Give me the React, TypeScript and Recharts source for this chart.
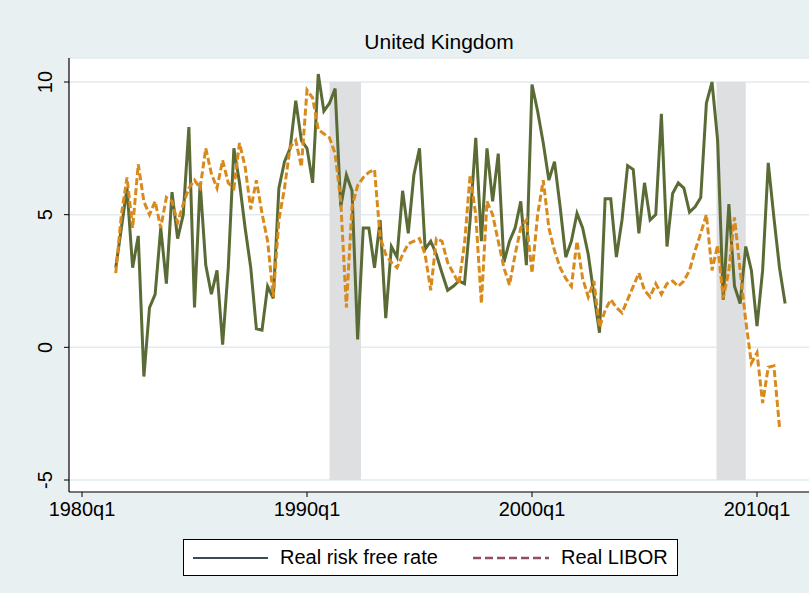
import React from 'react';
import { ComposedChart, Line, XAxis, YAxis, CartesianGrid, ReferenceArea } from 'recharts';

// quarters run from 1981q3 to 2011q2
const firstQuarter = { year: 1981, q: 3 };
const quarterCount = 120;

const xTicks = [1980, 1990, 2000, 2010];
const yTicks = [-5, 0, 5, 10];

// recession bands (start, end) in years
const recessions = [
  [1991.0, 1992.4],
  [2008.2, 2009.5],
];

const realRiskFree = [
  3.0, 4.5, 6.0, 3.0, 4.2, -1.1, 1.5, 2.0, 4.5, 2.4,
  5.85, 4.1, 5.0, 8.3, 1.5, 6.2, 3.1, 2.0, 2.9, 0.1,
  3.0, 7.5, 6.2, 4.5, 3.0, 0.7, 0.65, 2.3, 1.85, 6.0,
  7.0, 7.5, 9.3, 7.8, 7.5, 6.2, 10.3, 8.9, 9.2, 9.75,
  5.3, 6.5, 5.9, 0.3, 4.5, 4.5, 3.0, 4.8, 1.1, 3.8,
  3.4, 5.9, 4.3, 6.5, 7.5, 3.7, 4.0, 3.5, 2.8, 2.15,
  2.3, 2.5, 2.4, 4.8, 7.9, 4.0, 7.5, 5.5, 7.3, 3.2,
  4.0, 4.5, 5.5, 3.1, 9.9, 8.9, 7.7, 6.3, 7.0, 5.3,
  3.4, 4.0, 5.05, 4.5, 3.5, 2.0, 0.55, 5.6, 5.6, 3.4,
  4.8, 6.85, 6.7, 4.3, 6.2, 4.8, 5.0, 8.8, 3.8, 5.8,
  6.2, 6.0, 5.1, 5.3, 5.65, 9.2, 10.0, 7.8, 1.8, 5.4,
  2.3, 1.65, 3.8, 2.9, 0.8, 2.9, 6.95, 4.9, 3.0, 1.65,
];

const realLibor: (number | null)[] = [
  2.8, 5.0, 6.4, 4.5, 6.9, 5.5, 5.0, 5.5, 4.5, 5.65,
  5.5, 4.7, 5.4, 6.0, 6.3, 6.0, 7.5, 6.55, 6.0, 7.05,
  6.2, 6.0, 7.7, 6.8, 5.2, 6.3, 5.05, 4.0, 1.9, 4.8,
  6.0, 7.55, 7.8, 6.8, 9.7, 9.4, 8.2, 8.05, 7.9, 7.3,
  5.5, 1.5, 5.3, 6.1, 6.4, 6.6, 6.7, 4.15, 3.5, 3.2,
  3.0, 3.5, 3.9, 4.0, 4.1, 3.5, 2.15, 4.1, 4.0, 3.2,
  2.8, 2.4, 3.9, 6.5, 5.0, 1.65, 5.5, 5.0, 4.0, 3.0,
  2.35, 3.5, 4.5, 4.8, 2.8, 5.0, 6.3, 4.5, 3.65, 3.0,
  2.6, 2.3, 4.0, 2.6, 1.9, 2.5, 0.75, 1.4, 1.8, 1.5,
  1.3, 1.8, 2.3, 2.8, 2.15, 1.9, 2.4, 2.0, 2.4, 2.5,
  2.3, 2.5, 2.9, 3.65, 4.3, 5.0, 2.9, 3.85, 1.85, 2.9,
  4.9, 2.9, 1.0, -0.6, -0.2, -2.1, -0.75, -0.7, -3.0, null,
];

const quarters: { label: string; t: number }[] = [];
{
  let y = firstQuarter.year;
  let q = firstQuarter.q;
  for (let i = 0; i < quarterCount; i++) {
    quarters.push({ label: `${y}q${q}`, t: y + (q - 1) / 4 });
    q++;
    if (q > 4) { q = 1; y++; }
  }
}

const data = quarters.map((d, i) => ({
  t: d.t,
  label: d.label,
  rf: realRiskFree[i],
  libor: realLibor[i],
}));

const FONT = '"Liberation Sans", Arial, sans-serif';
const BG = '#e9f0f2';
const GREEN = '#5a6b35';
const ORANGE = '#d98a1c';

const YTick = (props: any) => {
  const { y, payload } = props;
  return (
    <text
      x={45}
      y={y}
      transform={`rotate(-90 45 ${y})`}
      textAnchor="middle"
      dominantBaseline="central"
      fontSize={20}
      fontFamily={FONT}
      fill="#000"
    >
      {payload.value}
    </text>
  );
};

export default function App() {
  return (
    <div style={{ position: 'absolute', left: 0, top: 0, width: 809, height: 593, background: BG, fontFamily: FONT, overflow: 'hidden' }}>
      <div style={{ position: 'absolute', left: 69, width: 740, top: 31, textAlign: 'center', fontSize: 21, lineHeight: '21px', color: '#000' }}>
        United Kingdom
      </div>
      <ComposedChart width={809} height={593} data={data} margin={{ top: 58, right: 0, bottom: 0, left: 0 }}>
        <CartesianGrid vertical={false} fill="#fff" stroke="#e3ebee" strokeWidth={1.5} />
        <XAxis
          dataKey="t"
          type="number"
          domain={[1979.422, 2012.311]}
          ticks={xTicks}
          allowDataOverflow
          tickFormatter={(v: number) => `${v}q1`}
          height={101}
          tickSize={5}
          tickMargin={5}
          axisLine={{ stroke: '#000', strokeWidth: 1.2 }}
          tickLine={{ stroke: '#000' }}
          tick={{ fill: '#000', fontSize: 20, fontFamily: FONT }}
          padding={{ left: 0, right: 0 }}
        />
        <YAxis
          type="number"
          domain={[-5.452, 10.905]}
          ticks={yTicks}
          allowDataOverflow
          width={69}
          tickSize={5}
          axisLine={{ stroke: '#000', strokeWidth: 1.2 }}
          tickLine={{ stroke: '#000' }}
          tick={<YTick />}
        />
        {recessions.map(([a, b], i) => (
          <ReferenceArea key={i} x1={a} x2={b} y1={-5} y2={10} fill="#dedfe0" fillOpacity={1} stroke="none" ifOverflow="hidden" />
        ))}
        <Line type="linear" dataKey="rf" stroke={GREEN} strokeWidth={3} dot={false} isAnimationActive={false} />
        <Line type="linear" dataKey="libor" stroke={ORANGE} strokeWidth={3} strokeDasharray="7 3" dot={false} isAnimationActive={false} />
      </ComposedChart>
      <div style={{ position: 'absolute', left: 183, top: 539, width: 493, height: 35, background: '#fff', border: '1px solid #000' }}>
        <svg width={493} height={35} style={{ position: 'absolute', left: 0, top: 0 }}>
          <line x1={9} y1={18} x2={84} y2={18} stroke="#3c4a52" strokeWidth={2} />
          <line x1={289} y1={18} x2={365} y2={18} stroke="#8f4f5f" strokeWidth={2.6} strokeDasharray="8 4" />
        </svg>
        <span style={{ position: 'absolute', left: 96, top: 6, fontSize: 20, lineHeight: '22px' }}>Real risk free rate</span>
        <span style={{ position: 'absolute', left: 377, top: 6, fontSize: 20, lineHeight: '22px' }}>Real LIBOR</span>
      </div>
    </div>
  );
}
